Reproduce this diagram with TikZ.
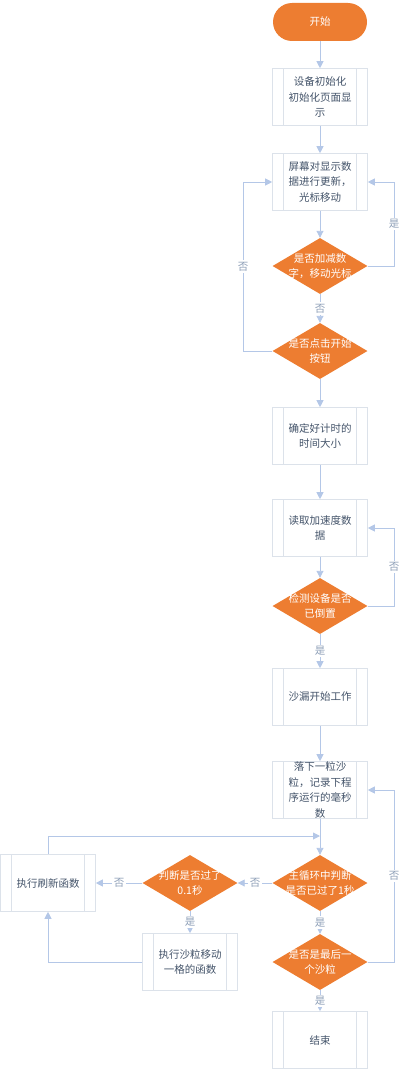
\documentclass[tikz,border=0pt]{standalone}
\usepackage{fontspec}
\setmainfont{Noto Sans CJK SC}
\usetikzlibrary{positioning, calc, shapes.geometric, arrows.meta}
\definecolor{SandOrange}{HTML}{ED7D31}
\definecolor{SandLine}{HTML}{B4C7E7}
\definecolor{SandBorder}{HTML}{DCE2EA}
\definecolor{SandText}{HTML}{44546A}
\definecolor{SandLabel}{HTML}{8FA0B8}

\tikzset{
  proc/.style={draw=SandBorder, fill=white, line width=0.6pt, minimum width=95pt, minimum height=57pt,
    inner sep=0pt, align=center, text=SandText, font=\fontsize{10.5}{15.5}\selectfont,
    path picture={
      \draw[SandBorder, line width=0.6pt] ([xshift=11pt]path picture bounding box.north west) -- ([xshift=11pt]path picture bounding box.south west);
      \draw[SandBorder, line width=0.6pt] ([xshift=-11pt]path picture bounding box.north east) -- ([xshift=-11pt]path picture bounding box.south east);
    }},
  dec/.style={diamond, aspect=1.7, fill=SandOrange, minimum width=95pt, minimum height=56pt, inner sep=0pt},
  dectext/.style={text=white, align=center, font=\fontsize{10.5}{15.5}\selectfont},
  term/.style={rectangle, rounded corners=19pt, fill=SandOrange, minimum width=94pt, minimum height=38pt,
    text=white, font=\fontsize{10.5}{15.5}\selectfont},
  flow/.style={SandLine, line width=0.9pt, -{Triangle[length=7pt, width=7pt]}},
  lbl/.style={fill=white, inner sep=1.5pt, text=SandLabel, font=\fontsize{10.5}{12}\selectfont}
}

\begin{document}
\begin{tikzpicture}[x=1pt, y=-1pt]
  \useasboundingbox (0,0) rectangle (406,1073);

  % Main column
  \node[term] (start) at (320,22) {开始};
  \node[proc] (init) at (320,97) {设备初始化\\初始化页面显\\示};
  \node[proc] (disp) at (320,182) {屏幕对显示数\\据进行更新，\\光标移动};
  \node[dec, label={[dectext]center:{是否加减数\\字，移动光标}}] (chkadj) at (320,266) {};
  \node[dec, label={[dectext]center:{是否点击开始\\按钮}}] (chkgo) at (320,351) {};
  \node[proc] (settime) at (320,436) {确定好计时的\\时间大小};
  \node[proc] (readacc) at (320,528) {读取加速度数\\据};
  \node[dec, label={[dectext]center:{检测设备是否\\已倒置}}] (chkinv) at (320,606) {};
  \node[proc] (work) at (320,697) {沙漏开始工作};
  \node[proc] (drop) at (320,790) {落下一粒沙\\粒，记录下程\\序运行的毫秒\\数};
  \node[dec, label={[dectext]center:{主循环中判断\\是否已过了1秒}}] (chksec) at (320,883) {};
  \node[dec, label={[dectext]center:{是否是最后一\\个沙粒}}] (chklast) at (320,962) {};
  \node[proc] (finish) at (320,1040) {结束};

  % Left branch
  \node[dec, label={[dectext]center:{判断是否过了\\0.1秒}}] (chktick) at (190,883) {};
  \node[proc] (refresh) at (48,883) {执行刷新函数};
  \node[proc] (move) at (190,962) {执行沙粒移动\\一格的函数};
  \coordinate (merge) at (320,836);

  % Connectors
  \draw[flow] (start) -- (init);
  \draw[flow] (init) -- (disp);
  \draw[flow] (disp) -- (chkadj);
  \draw[flow] (chkadj) -- node[lbl] {否} (chkgo);
  \draw[flow] (chkadj.east) -- (394,266) -- node[lbl] {是} (394,182) -- (disp.east);
  \draw[flow] (chkgo.west) -- (243,351) -- node[lbl] {否} (243,182) -- (disp.west);
  \draw[flow] (chkgo) -- (settime);
  \draw[flow] (settime) -- (readacc);
  \draw[flow] (readacc) -- (chkinv);
  \draw[flow] (chkinv.east) -- (394,606) -- node[lbl] {否} (394,528) -- (readacc.east);
  \draw[flow] (chkinv) -- node[lbl] {是} (work);
  \draw[flow] (work) -- (drop);
  \draw[flow] (drop) -- (chksec);
  \draw[flow] (refresh.north) -- (48,836) -- (merge);
  \draw[flow] (chksec) -- node[lbl] {否} (chktick);
  \draw[flow] (chktick) -- node[lbl] {否} (refresh);
  \draw[flow] (chktick) -- node[lbl] {是} (move);
  \draw[flow] (move.west) -- (48,962) -- (refresh.south);
  \draw[flow] (chksec) -- node[lbl] {是} (chklast);
  \draw[flow] (chklast.east) -- (394,962) -- node[lbl] {否} (394,790) -- (drop.east);
  \draw[flow] (chklast) -- node[lbl] {是} (finish);
\end{tikzpicture}
\end{document}
